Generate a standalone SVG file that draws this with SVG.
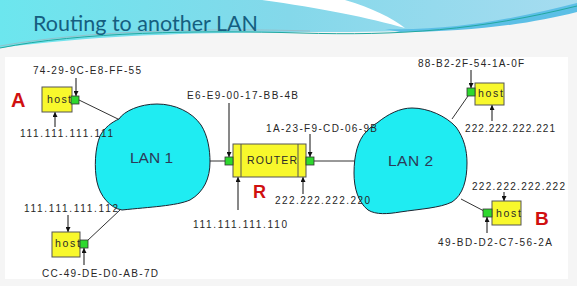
<svg xmlns="http://www.w3.org/2000/svg" width="577" height="286" viewBox="0 0 577 286">
  <defs>
    <linearGradient id="hdr" x1="0" y1="0" x2="1" y2="0">
      <stop offset="0" stop-color="#6ce6ee"/>
      <stop offset="0.5" stop-color="#84d8ea"/>
      <stop offset="1" stop-color="#a6dcf0"/>
    </linearGradient>
    <marker id="arr" viewBox="0 0 6 6" refX="6" refY="3" markerWidth="5" markerHeight="5" markerUnits="userSpaceOnUse" orient="auto">
      <path d="M0,0 L6,3 L0,6 Z" fill="#111"/>
    </marker>
    <style>
      .lbl { font-family: "Liberation Sans", Arial, sans-serif; font-size: 10px; fill: #262626; }
      .hosttxt { font-family: "Liberation Sans", Arial, sans-serif; font-size: 10.5px; fill: #2a2a2a; }
      .box { fill: #f8f82c; stroke: #555; stroke-width: 1; }
      .port { fill: #2ed82e; stroke: #333; stroke-width: 0.8; }
      .lan { fill: #1fecf2; stroke: #1c2430; stroke-width: 1; }
      .lantxt { font-family: "Liberation Sans", Arial, sans-serif; font-size: 15.5px; fill: #2c3a58; }
      .tag { font-family: "Liberation Sans", Arial, sans-serif; font-weight: bold; fill: #d01010; }
      .wire { stroke: #333; stroke-width: 1; fill: none; }
      .ptr { stroke: #111; stroke-width: 1; fill: none; marker-end: url(#arr); }
    </style>
  </defs>

  <!-- page background and header swoosh -->
  <rect x="0" y="0" width="577" height="286" fill="#f5f5f5"/>
  <path d="M0,0 H577 V10 C520,20 470,29 400,31 C300,34 150,28 0,48 Z" fill="url(#hdr)"/>
  <path d="M262,0 H345 C372,8 392,18 405,28 C370,18 320,8 262,0 Z" fill="#ffffff"/>
  <path d="M385,29 C460,31 525,16 577,3 V12 C530,24 470,32 400,32 Z" fill="#5cbfe6"/>
  <path d="M0,48 C80,32 200,30 300,33 C400,36 480,30 577,6" stroke="#22a8a0" stroke-width="1" fill="none"/>
  <path d="M0,46 C90,30 210,28 310,31" stroke="#9ab8c0" stroke-width="0.8" fill="none"/>
  <text x="33" y="31" font-family="Lato, 'Open Sans', sans-serif" font-size="22" fill="#155e80" textLength="225" lengthAdjust="spacingAndGlyphs">Routing to another LAN</text>

  <!-- diagram panel -->
  <rect x="5" y="57" width="563" height="222" fill="#ffffff"/>

  <!-- connectors -->
  <g id="connectors">
    <line class="wire" x1="79" y1="100" x2="120" y2="120"/>
    <line class="wire" x1="87" y1="241" x2="120" y2="210"/>
    <line class="wire" x1="209" y1="161" x2="225" y2="161"/>
    <line class="wire" x1="314" y1="161" x2="355" y2="161"/>
    <line class="wire" x1="468" y1="96" x2="452" y2="119"/>
    <line class="wire" x1="484" y1="211" x2="461" y2="199"/>
    <!-- address pointers -->
    <line class="ptr" x1="76" y1="78" x2="76" y2="96"/>
    <line class="ptr" x1="55" y1="127" x2="55" y2="112"/>
    <line class="ptr" x1="229" y1="103" x2="229" y2="157"/>
    <line class="ptr" x1="310" y1="134" x2="310" y2="157"/>
    <line class="ptr" x1="238" y1="210" x2="238" y2="177"/>
    <line class="ptr" x1="303" y1="194" x2="303" y2="177"/>
    <line class="ptr" x1="471" y1="70" x2="471" y2="88"/>
    <line class="ptr" x1="492" y1="121" x2="492" y2="105"/>
    <line class="ptr" x1="504" y1="192" x2="504" y2="201"/>
    <line class="ptr" x1="487" y1="233" x2="487" y2="217"/>
    <line class="ptr" x1="68" y1="215" x2="68" y2="232"/>
    <line class="ptr" x1="84" y1="265" x2="84" y2="248"/>
  </g>

  <!-- LAN 1 cloud -->
  <g id="lan1">
    <path class="lan" d="M119,119 C124,111 140,104 157,104 C175,104 192,112 201,125 C208,136 210,150 210,162 C210,178 204,192 190,200 C176,206 150,207 122,210 C110,208 100,196 97,182 C94,168 95,148 100,136 C104,128 112,122 119,119 Z"/>
    <text class="lantxt" x="130" y="163" textLength="43">LAN 1</text>
  </g>

  <!-- LAN 2 cloud -->
  <g id="lan2">
    <path class="lan" d="M377,123 C388,114 400,108 412,108 C428,108 446,116 456,127 C464,138 467,150 467,163 C467,180 463,195 452,202 C440,208 420,209 400,212 C388,214 376,215 368,210 C358,202 354,188 354,173 C354,155 358,140 366,132 C370,128 373,125 377,123 Z"/>
    <text class="lantxt" x="388" y="166" textLength="45">LAN 2</text>
  </g>

  <!-- Router R -->
  <g id="router">
    <rect class="box" x="233" y="144" width="73" height="33"/>
    <line x1="241" y1="144" x2="241" y2="177" stroke="#555"/>
    <line x1="298" y1="144" x2="298" y2="177" stroke="#555"/>
    <rect class="port" x="225" y="157" width="8" height="8"/>
    <rect class="port" x="306" y="157" width="8" height="8"/>
    <text class="hosttxt" x="247" y="164" textLength="50">ROUTER</text>
    <text class="tag" x="253" y="198" font-size="18">R</text>
    <text class="lbl" x="187" y="99" textLength="111">E6-E9-00-17-BB-4B</text>
    <text class="lbl" x="266" y="132" textLength="111">1A-23-F9-CD-06-9B</text>
    <text class="lbl" x="275" y="204" textLength="95">222.222.222.220</text>
    <text class="lbl" x="193" y="228" textLength="94">111.111.111.110</text>
  </g>

  <!-- Host A -->
  <g id="hostA">
    <rect class="box" x="42" y="87" width="30" height="25"/>
    <text class="hosttxt" x="47" y="103" textLength="24">host</text>
    <rect class="port" x="71" y="96" width="8" height="8"/>
    <text class="tag" x="11" y="107" font-size="20">A</text>
    <text class="lbl" x="33" y="74" textLength="108">74-29-9C-E8-FF-55</text>
    <text class="lbl" x="20" y="137" textLength="93">111.111.111.111</text>
  </g>

  <!-- Host on LAN 1, lower -->
  <g id="hostLan1b">
    <rect class="box" x="52" y="232" width="28" height="25"/>
    <text class="hosttxt" x="55" y="247" textLength="25">host</text>
    <rect class="port" x="80" y="240" width="8" height="8"/>
    <text class="lbl" x="24" y="212" textLength="94">111.111.111.112</text>
    <text class="lbl" x="42" y="277" textLength="116">CC-49-DE-D0-AB-7D</text>
  </g>

  <!-- Host on LAN 2, upper -->
  <g id="hostLan2a">
    <rect class="box" x="475" y="83" width="29" height="22"/>
    <text class="hosttxt" x="478" y="97" textLength="25">host</text>
    <rect class="port" x="467" y="88" width="8" height="8"/>
    <text class="lbl" x="418" y="67" textLength="106">88-B2-2F-54-1A-0F</text>
    <text class="lbl" x="465" y="132" textLength="90">222.222.222.221</text>
  </g>

  <!-- Host B -->
  <g id="hostB">
    <rect class="box" x="492" y="201" width="29" height="24"/>
    <text class="hosttxt" x="496" y="217" textLength="25">host</text>
    <rect class="port" x="483" y="209" width="9" height="8"/>
    <text class="tag" x="535" y="225" font-size="19">B</text>
    <text class="lbl" x="472" y="190" textLength="93">222.222.222.222</text>
    <text class="lbl" x="438" y="246" textLength="114">49-BD-D2-C7-56-2A</text>
  </g>
</svg>
